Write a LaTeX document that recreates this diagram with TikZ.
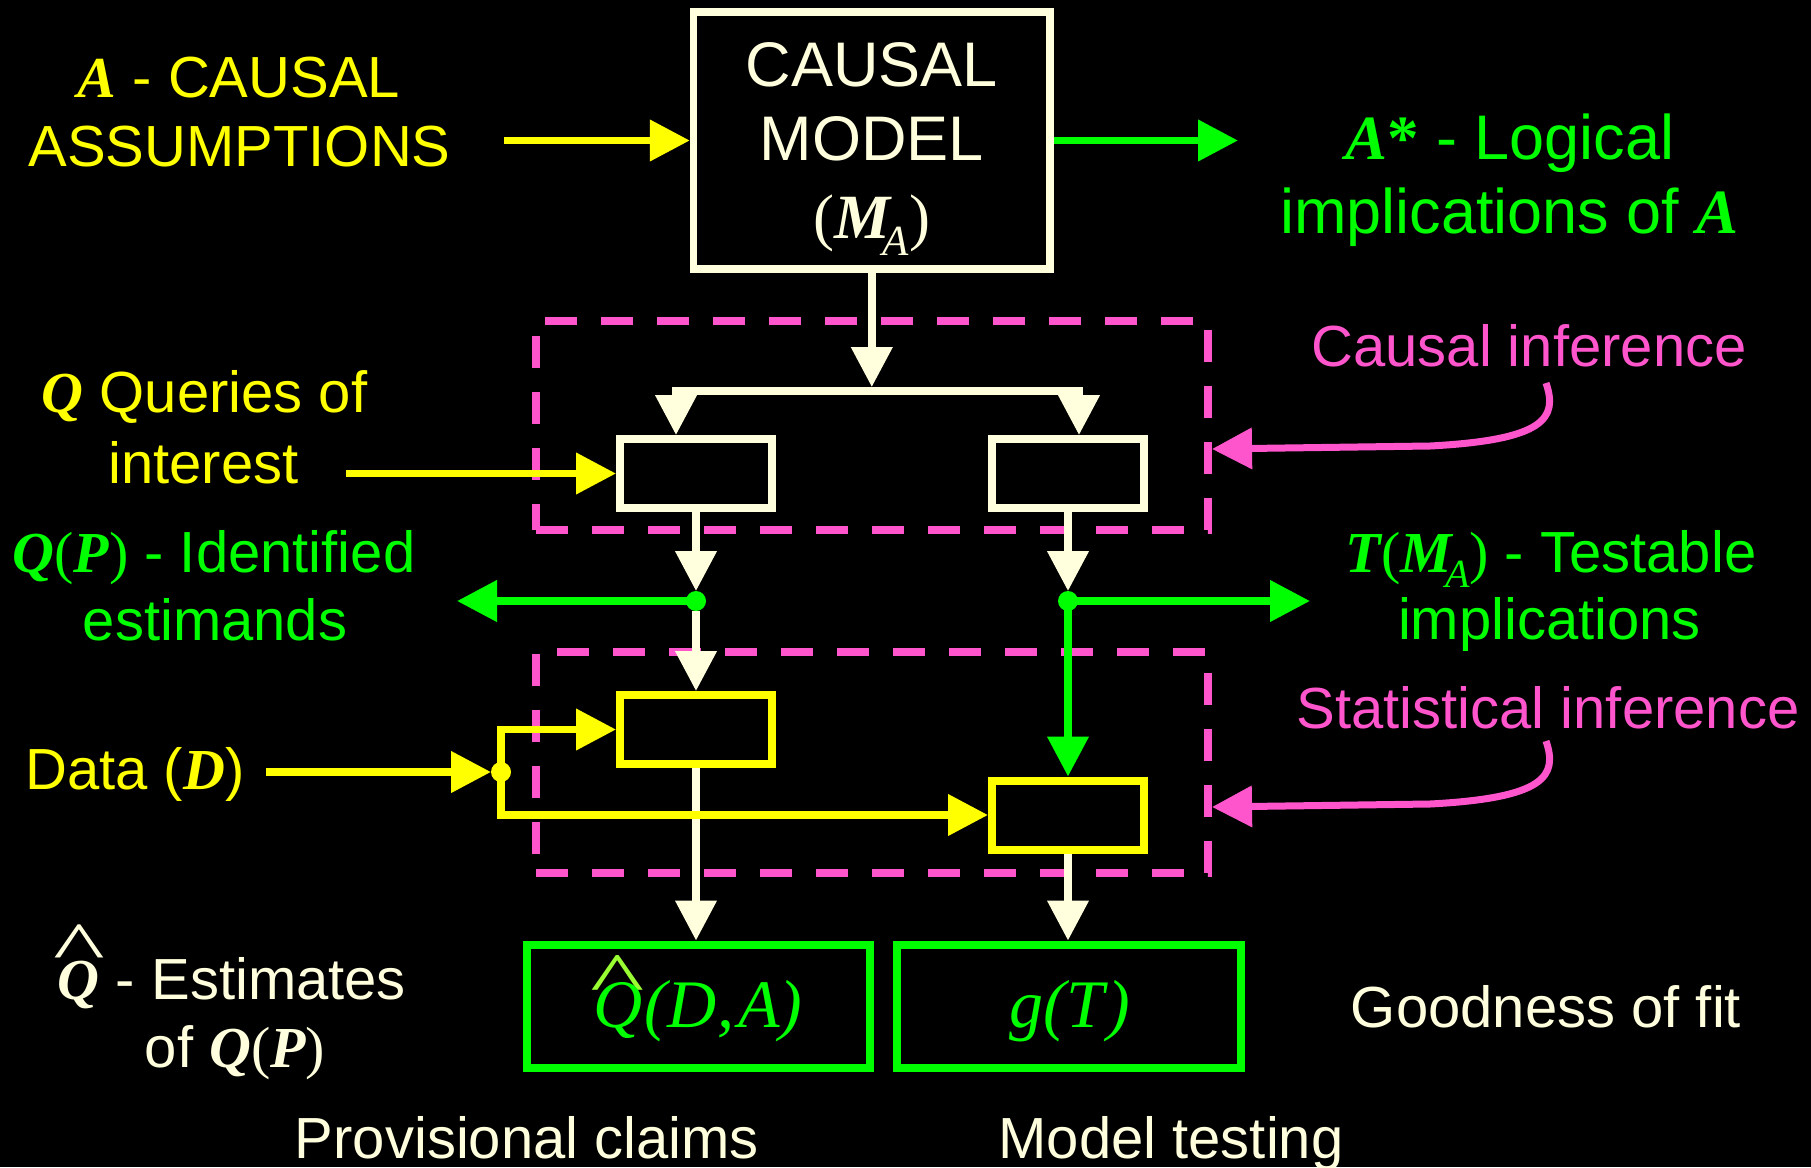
\documentclass[tikz,border=0pt]{standalone}
\usepackage{fontspec}
\setmainfont{Liberation Sans}
\newfontfamily\tms{Liberation Serif}
\usepackage{graphicx}
\usetikzlibrary{arrows.meta}
\definecolor{cream}{HTML}{FFFFDD}
\definecolor{yel}{HTML}{FFFF00}
\definecolor{grn}{HTML}{00FF00}
\definecolor{pnk}{HTML}{FF55CC}
\definecolor{limeg}{HTML}{99FF33}
\newcommand{\vbi}[1]{{\tms\bfseries\itshape #1}}
\newcommand{\vit}[1]{{\tms\itshape #1}}
\newcommand{\vtm}[1]{{\tms #1}}
\newcommand{\subA}[1]{\kern-0.12em\raisebox{-0.27em}{\fontsize{#1}{#1}\selectfont\vit{A}}}
\newcommand{\hatover}[4]{\makebox[0pt][l]{\kern#2\raisebox{#1}{\scalebox{#3}[#4]{\tms\upshape\mdseries\char"5E}}}}
\begin{document}
\begin{tikzpicture}[x=1pt,y=-1pt,
  txt/.style={inner sep=0pt, anchor=base, font=\fontsize{58}{70}\selectfont},
  big/.style={inner sep=0pt, anchor=base, font=\fontsize{63}{74}\selectfont},
  mth/.style={inner sep=0pt, anchor=base, font=\fontsize{68}{80}\selectfont},
  arr/.style={line width=7.5pt, -{Triangle[length=40pt,width=40pt]}},
  ln/.style={line width=7.5pt},
  bx/.style={draw, rectangle, inner sep=0pt, line width=8pt, minimum width=152pt, minimum height=69pt},
  gbx/.style={draw=grn, rectangle, inner sep=0pt, line width=8pt, minimum width=343pt, minimum height=123pt},
  dbox/.style={draw=pnk, rectangle, inner sep=0pt, line width=8pt, dash pattern=on 32pt off 24pt, minimum width=672.3pt},
  dot/.style={circle, inner sep=0pt, outer sep=0pt, minimum size=20pt},
]
\useasboundingbox (0,0) rectangle (1811,1167);
\fill[black] (0,0) rectangle (1811,1167);

% dashed regions
\node[dbox, minimum height=208.6pt] (ci) at (871.85,425.3) {};
\node[dbox, minimum height=221pt] (si) at (871.85,762.5) {};

% boxes
\node[draw=cream, line width=7.5pt, rectangle, inner sep=0pt, minimum width=356.5pt, minimum height=257pt] (cm) at (871.8,140.5) {};
\node[bx, draw=cream] (q1) at (696,473.5) {};
\node[bx, draw=cream] (q2) at (1068,473.5) {};
\node[bx, draw=yel] (s1) at (696,729.5) {};
\node[bx, draw=yel] (s2) at (1068,815) {};
\node[gbx] (e1) at (698.5,1006) {};
\node[gbx, minimum width=344pt] (e2) at (1069,1006) {};

% junction dots
\path (696,601) coordinate (d1c) (1068,601) coordinate (d2c) (501,772) coordinate (dyc);
\node[dot] (d1) at (d1c) {};
\node[dot] (d2) at (d2c) {};
\node[dot] (dy) at (dyc) {};

% causal model text
\node[big, text=cream] (cmt1) at (871.8,86) {CAUSAL};
\node[big, text=cream] (cmt2) at (871.8,160) {MODEL};
\node[big, text=cream] (cmt3) at (871.8,238) {\vtm{(}\vbi{M}\subA{43}\vtm{)}};

% texts
\node[txt, text=yel] (a1) at (239,97) {\vbi{A} - CAUSAL};
\node[txt, text=yel] (a2) at (239.5,166) {ASSUMPTIONS};
\node[big, text=grn] (l1) at (1510,159) {\vbi{A}{\tms\bfseries *} - Logical};
\node[big, text=grn] (l2) at (1509.5,233) {implications of \vbi{A}};
\node[txt, text=pnk] (cinf) at (1529,366) {Causal inference};
\node[txt, text=yel] (qq1) at (204.5,412) {\vbi{Q} Queries of};
\node[txt, text=yel] (qq2) at (203.5,483) {interest};
\node[txt, text=grn] (qp1) at (214,572) {\vbi{Q}\vtm{(}\vbi{P}\vtm{)} - Identified};
\node[txt, text=grn] (qp2) at (215,640) {estimands};
\node[txt, text=grn] (tm1) at (1551,572) {\vbi{T}\vtm{(}\vbi{M}\subA{40}\vtm{)} - Testable};
\node[txt, text=grn] (tm2) at (1549.5,639) {implications};
\node[txt, text=pnk] (sinf) at (1548,728) {Statistical inference};
\node[txt, text=yel] (dat) at (135,789) {Data (\vbi{D})};
\node[txt, text=cream] (qe1) at (232,999) {\hatover{0.48em}{-0.08em}{1.9}{1.23}\vbi{Q} - Estimates};
\node[txt, text=cream] (qe2) at (235,1067) {of \vbi{Q}\vtm{(}\vbi{P}\vtm{)}};
\node[txt, text=cream] (gof) at (1546,1027) {Goodness of fit};
\node[txt, text=cream] (pc) at (527,1158) {Provisional claims};
\node[txt, text=cream] (mt) at (1171,1158) {Model testing};

% box contents
\node[mth, text=grn] (e1t) at (698,1027) {{\color{limeg}\hatover{0.33em}{-0.05em}{1.7}{1.1}}\vit{Q}\kern2pt\vit{(}\vit{D}\kern1pt\vit{,}\kern4pt\vit{A}\vit{)}};
\node[mth, text=grn] (e2t) at (1070,1027) {\vit{g}\vit{(}\vit{T}\kern4pt\vit{)}};

% free ends
\coordinate (aS) at (504,140.5);
\coordinate (lgT) at (1238,140.5);
\coordinate (bT) at (871.8,387);
\coordinate (bL) at (676,391);
\coordinate (bR) at (1079,391);
\coordinate (qpT) at (457,601);
\coordinate (tmT) at (1310,601);
\coordinate (qiS) at (346,473.5);
\coordinate (dS) at (266,772);
\coordinate (ciS) at (1546,383);
\coordinate (ciY) at (0,449);
\coordinate (siS) at (1546,741);
\coordinate (siY) at (0,807);

% connectors
\draw[arr, yel] (aS) -- (cm.west);
\draw[arr, grn] (cm.east) -- (lgT);
\draw[arr, cream] (cm.south) -- (bT);
\draw[ln, cream, line cap=rect] (bL) -- (bR);
\draw[arr, cream] (bL) -- (bL |- q1.north);
\draw[arr, cream] (bR) -- (bR |- q2.north);
\draw[arr, yel] (qiS) -- (q1.west);
\draw[arr, cream] (q1.south) -- (d1.north);
\draw[arr, cream] (q2.south) -- (d2.north);
\draw[arr, grn] (d1.center) -- (qpT);
\draw[arr, grn] (d2.center) -- (tmT);
\draw[arr, cream] (d1.south) -- (s1.north);
\draw[arr, grn] (d2.center) -- (s2.north);
\draw[arr, cream] (s1.south) -- (s1.south |- e1.north);
\draw[arr, cream] (s2.south) -- (s2.south |- e2.north);
\draw[arr, yel] (dS) -- (dy.west);
\draw[arr, yel] (dy.center) |- (s1.west);
\draw[arr, yel] (dy.center) |- (s2.west);
\draw[arr, pnk, line width=7pt] (ciS) .. controls (1558,418) and (1545,440) .. (1430,446) -- (ci.east |- ciY);
\draw[arr, pnk, line width=7pt] (siS) .. controls (1558,776) and (1545,798) .. (1430,804) -- (si.east |- siY);

% dots on top
\fill[grn] (d1.center) circle (10pt);
\fill[grn] (d2.center) circle (10pt);
\fill[yel] (dy.center) circle (10pt);
\end{tikzpicture}
\end{document}
